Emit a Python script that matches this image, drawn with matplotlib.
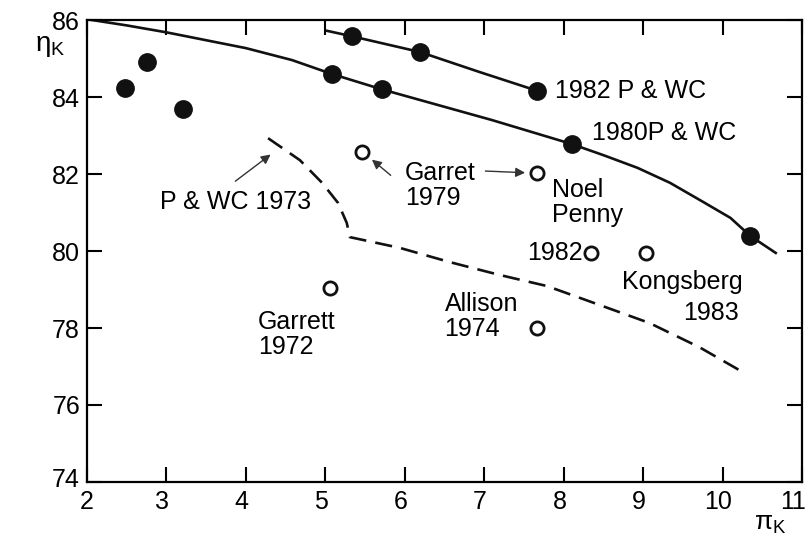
import matplotlib
matplotlib.use('Agg')
import matplotlib.pyplot as plt
from matplotlib.transforms import ScaledTranslation

plt.rcParams['font.family'] = ['Liberation Sans', 'DejaVu Sans']
plt.rcParams['mathtext.fontset'] = 'custom'
plt.rcParams['mathtext.rm'] = 'Liberation Sans'
plt.rcParams['mathtext.it'] = 'Liberation Sans'

# отдельные точки (закрашенные), без линии
early_x = [2.48, 2.75, 3.21]
early_y = [84.23, 84.9, 83.69]

# кривая 1982 P & WC
c1982_x = [5.02, 5.33, 6.19, 6.94, 7.67]
c1982_y = [85.72, 85.58, 85.17, 84.65, 84.16]
p1982_x = [5.33, 6.19, 7.67]
p1982_y = [85.58, 85.17, 84.16]

# кривая 1980 P & WC
c1980_x = [2.0, 2.5, 3.0, 4.0, 4.58, 5.08, 5.71, 7.1, 8.1, 8.5, 8.93, 9.34, 9.76, 10.1, 10.35, 10.67]
c1980_y = [86.02, 85.86, 85.68, 85.27, 84.96, 84.6, 84.2, 83.4, 82.78, 82.49, 82.16, 81.77, 81.27, 80.86, 80.39, 79.95]
p1980_x = [5.08, 5.71, 8.10, 10.35]
p1980_y = [84.6, 84.2, 82.78, 80.39]

# штриховая кривая P & WC 1973
c1973_x = [4.28, 4.68, 4.96, 5.16, 5.27, 5.31, 5.94, 6.57, 7.19, 7.79, 8.45, 9.08, 9.71, 10.25]
c1973_y = [82.93, 82.36, 81.77, 81.25, 80.73, 80.36, 80.08, 79.71, 79.38, 79.09, 78.6, 78.13, 77.5, 76.86]

# открытые точки (прочие производители)
open_x = [5.46, 7.67, 5.06, 7.66, 8.35, 9.04]
open_y = [82.57, 82.03, 79.04, 78.0, 79.95, 79.95]

x_ticks = [2, 3, 4, 5, 6, 7, 8, 9, 10, 11]
y_ticks = [74, 76, 78, 80, 82, 84, 86]

fig = plt.figure(figsize=(8.09, 5.38), dpi=100)
ax = fig.add_axes([0.1075, 0.1041, 0.8838, 0.8587])

ax.plot(c1982_x, c1982_y, color='#111111', lw=1.9)
ax.plot(c1980_x, c1980_y, color='#111111', lw=1.9)
ax.plot(c1973_x, c1973_y, color='#111111', lw=1.9, linestyle=(0, (6.5, 3.5)))

ax.plot(early_x, early_y, 'o', color='#111111', ms=12.5, ls='none')
ax.plot(p1982_x, p1982_y, 'o', color='#111111', ms=12.5, ls='none')
ax.plot(p1980_x, p1980_y, 'o', color='#111111', ms=12.5, ls='none')
ax.plot(open_x, open_y, 'o', mfc='white', mec='#111111', mew=2.0, ms=9.5, ls='none')

fs = 18
ax.text(7.89, 84.16, '1982 P & WC', fontsize=fs, ha='left', va='center')
ax.text(8.36, 83.06, '1980P & WC', fontsize=fs, ha='left', va='center')
ax.text(2.92, 81.27, 'P & WC 1973', fontsize=fs, ha='left', va='center')
ax.text(6.0, 81.7, 'Garret\n1979', fontsize=fs, ha='left', va='center', linespacing=1.05)
ax.text(7.85, 81.25, 'Noel\nPenny', fontsize=fs, ha='left', va='center', linespacing=1.05)
ax.text(8.24, 79.95, '1982', fontsize=fs, ha='right', va='center')
ax.text(8.74, 79.2, 'Kongsberg', fontsize=fs, ha='left', va='center')
ax.text(9.85, 78.39, '1983', fontsize=fs, ha='center', va='center')
ax.text(4.15, 77.82, 'Garrett\n1972', fontsize=fs, ha='left', va='center', linespacing=1.05)
ax.text(6.5, 78.31, 'Allison\n1974', fontsize=fs, ha='left', va='center', linespacing=1.05)

arrow = dict(arrowstyle='-|>', color='#333333', lw=1.0, mutation_scale=14)
ax.annotate('', xy=(4.34, 82.55), xytext=(3.84, 81.77), arrowprops=arrow)
ax.annotate('', xy=(5.56, 82.42), xytext=(5.85, 81.92), arrowprops=arrow)
ax.annotate('', xy=(7.55, 82.03), xytext=(6.98, 82.08), arrowprops=arrow)

ax.set_xlim(2, 11)
ax.set_ylim(74, 86)
ax.set_xticks(x_ticks)
ax.set_yticks(y_ticks)
ax.tick_params(direction='in', length=11, width=1.5, labelsize=fs,
               top=True, right=True)
ax.tick_params(axis='x', pad=6)
ax.tick_params(axis='y', pad=5)
for s in ax.spines.values():
    s.set_linewidth(1.6)

# подписи оси x чуть левее делений, последняя "11" - чтобы не обрезалась
xlabs = ax.get_xticklabels()
for lab in xlabs[1:]:
    lab.set_transform(lab.get_transform() + ScaledTranslation(-4 / 100, 0, fig.dpi_scale_trans))
xlabs[-1].set_horizontalalignment('right')
xlabs[-1].set_transform(xlabs[-1].get_transform() + ScaledTranslation(8 / 100, 0, fig.dpi_scale_trans))
# "74" чуть выше, как в оригинале
ylab0 = ax.get_yticklabels()[0]
ylab0.set_transform(ylab0.get_transform() + ScaledTranslation(0, 4 / 100, fig.dpi_scale_trans))

fig.text(0.062, 0.915, r'$\eta_\mathrm{K}$', fontsize=20, ha='center', va='center')
fig.text(0.952, 0.026, r'$\pi_\mathrm{K}$', fontsize=19, ha='center', va='center')

fig.savefig('out.png', dpi=100)
